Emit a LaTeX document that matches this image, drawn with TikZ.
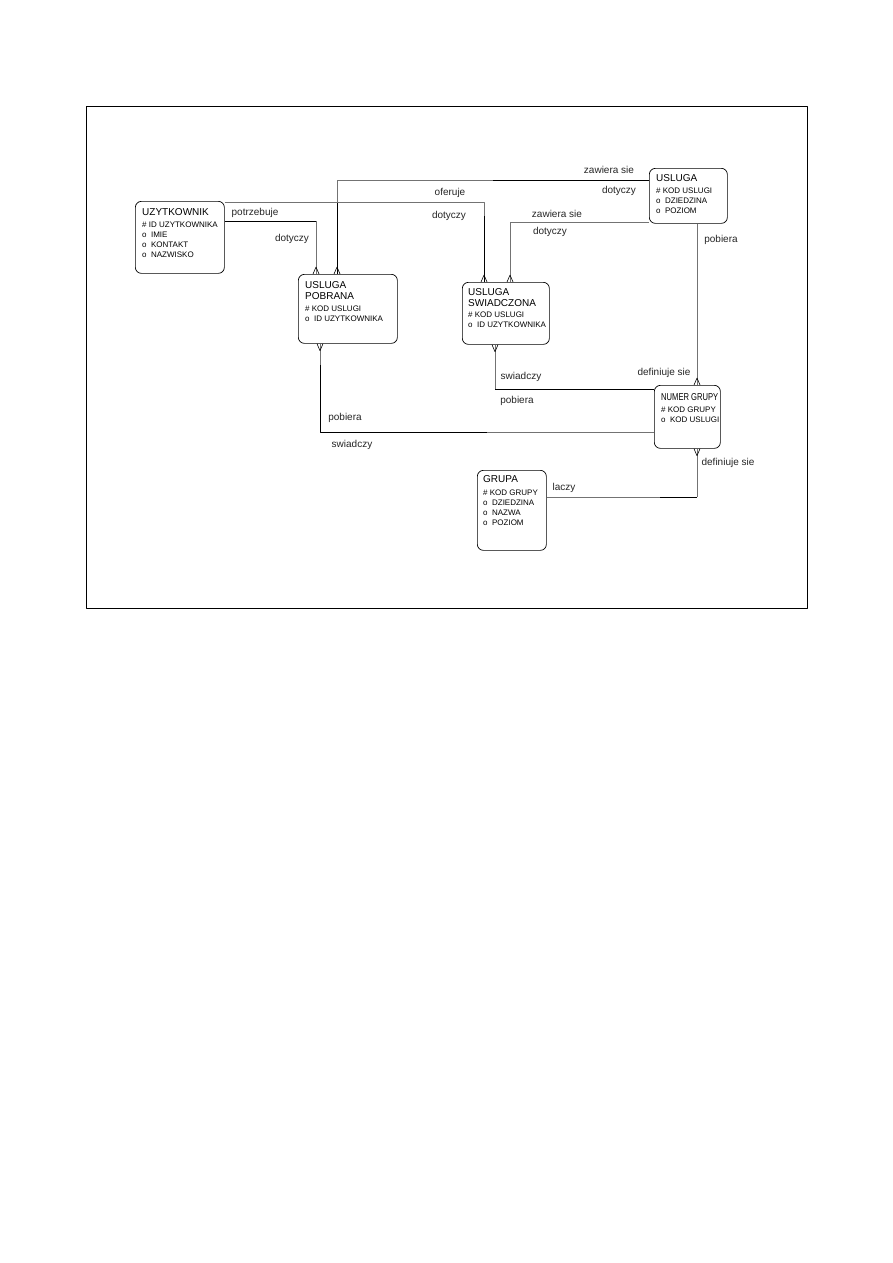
\documentclass[tikz,border=0pt]{standalone}
\usepackage{fontspec}
\usepackage{graphicx}
\setmainfont{Liberation Sans}
\usetikzlibrary{calc}
\newcommand{\entname}{\fontsize{10}{12}\selectfont}
\newcommand{\attrfont}{\fontsize{8}{10}\selectfont}
\begin{document}
\begin{tikzpicture}[x=1pt,y=-1pt,line join=round,
		entity/.style={draw=black,line width=0.7pt,rounded corners=6pt,anchor=north west,inner sep=0pt},
		enttext/.style={anchor=north west,align=left,inner sep=0pt,font=\attrfont},
		lbl/.style={font=\fontsize{10}{12}\selectfont,inner sep=0pt,text=black!85},
		solidpart/.style={draw=black,line width=1pt},
		dashpart/.style={draw=black!55,line width=0.7pt},
		crowin/.pic={\draw[line width=0.6pt] (0,-7) -- (-3,0) (0,-7) -- (3,0);},
		crowout/.pic={\draw[line width=0.6pt] (0,7) -- (-3,0) (0,7) -- (3,0);}]
	\useasboundingbox[fill=white] (0,0) rectangle (893,1263);
	\draw[line width=1pt] (86,106) rectangle (807,608);
	
	% entities
	\node[entity,minimum width=89pt,minimum height=72pt] (uzyt) at (135,201) {};
	\node[enttext] (uzyt-txt) at ([shift={(7,7)}]uzyt.north west) {{\entname UZYTKOWNIK}\\[2pt]\# ID UZYTKOWNIKA\\o\ \ IMIE\\o\ \ KONTAKT\\o\ \ NAZWISKO};
	
	\node[entity,minimum width=99pt,minimum height=69pt] (pobr) at (298,274) {};
	\node[enttext] (pobr-txt) at ([shift={(7,7)}]pobr.north west) {{\entname USLUGA}\\[1pt]{\entname POBRANA}\\[2pt]\# KOD USLUGI\\o\ \ ID UZYTKOWNIKA};
	
	\node[entity,minimum width=87pt,minimum height=62pt] (swiad) at (462,282) {};
	\node[enttext] (swiad-txt) at ([shift={(6,6)}]swiad.north west) {{\entname USLUGA}\\[1pt]{\entname SWIADCZONA}\\[1pt]\# KOD USLUGI\\o\ \ ID UZYTKOWNIKA};
	
	\node[entity,minimum width=78pt,minimum height=55pt] (usl) at (649,168) {};
	\node[enttext] (usl-txt) at ([shift={(7,6)}]usl.north west) {{\entname USLUGA}\\[2pt]\# KOD USLUGI\\o\ \ DZIEDZINA\\o\ \ POZIOM};
	
	\node[entity,minimum width=66pt,minimum height=63pt] (numer) at (654,385) {};
	\node[enttext] (numer-txt) at ([shift={(7,8)}]numer.north west) {{\entname\scalebox{0.76}[1]{NUMER GRUPY}}\\[2pt]\# KOD GRUPY\\o\ \ KOD USLUGI};
	
	\node[entity,minimum width=69pt,minimum height=80pt] (grupa) at (477,470) {};
	\node[enttext] (grupa-txt) at ([shift={(6,5)}]grupa.north west) {{\entname GRUPA}\\[3pt]\# KOD GRUPY\\o\ \ DZIEDZINA\\o\ \ NAZWA\\o\ \ POZIOM};
	
	% bends and splits of the relationships
	\coordinate (b1) at (316,221);
	\coordinate (b2) at (484,202);
	\coordinate (m2) at (484,216);
	\coordinate (b3) at (337,180);
	\coordinate (m3a) at (493,180);
	\coordinate (m3b) at (337,203);
	\coordinate (b4) at (510,222);
	\coordinate (x5) at (697,300);
	\coordinate (b6) at (495,389);
	\coordinate (b7) at (320,432);
	\coordinate (m7a) at (320,365);
	\coordinate (m7b) at (487,432);
	\coordinate (b8) at (697,497);
	\coordinate (m8) at (660,497);
	
	% potrzebuje / dotyczy
	\draw[solidpart] (uzyt.east |- b1) -- (b1);
	\draw[dashpart] (b1) -- (b1 |- pobr.north);
	\pic at (b1 |- pobr.north) {crowin};
	
	% oferuje / dotyczy
	\draw[dashpart] (uzyt.east |- b2) -- (b2) -- (m2);
	\draw[solidpart] (m2) -- (b2 |- swiad.north);
	\pic at (b2 |- swiad.north) {crowin};
	
	% zawiera sie / dotyczy (pobrana)
	\draw[solidpart] (usl.west |- b3) -- (m3a);
	\draw[dashpart] (m3a) -- (b3) -- (m3b);
	\draw[solidpart] (m3b) -- (b3 |- pobr.north);
	\pic at (b3 |- pobr.north) {crowin};
	
	% zawiera sie / dotyczy (swiadczona)
	\draw[dashpart] (usl.west |- b4) -- (b4) -- (b4 |- swiad.north);
	\pic at (b4 |- swiad.north) {crowin};
	
	% pobiera / definiuje sie
	\draw[dashpart] (usl.south -| x5) -- (numer.north -| x5);
	\pic at (numer.north -| x5) {crowin};
	
	% swiadczy / pobiera
	\draw[dashpart] (swiad.south -| b6) -- (b6);
	\draw[solidpart] (b6) -- (numer.west |- b6);
	\pic at (swiad.south -| b6) {crowout};
	
	% pobiera / swiadczy
	\draw[dashpart] (pobr.south -| b7) -- (m7a);
	\draw[solidpart] (m7a) -- (b7) -- (m7b);
	\draw[dashpart] (m7b) -- (numer.west |- b7);
	\pic at (pobr.south -| b7) {crowout};
	
	% definiuje sie / laczy
	\draw[dashpart] (numer.south -| b8) -- (b8);
	\draw[solidpart] (b8) -- (m8);
	\draw[dashpart] (m8) -- (grupa.east |- b8);
	\pic at (numer.south -| b8) {crowout};
	
	% labels
	\node[lbl] (l-potrz) at (255,213) {potrzebuje};
	\node[lbl] (l-dot1) at (292,239) {dotyczy};
	\node[lbl] (l-ofer) at (450,193) {oferuje};
	\node[lbl] (l-dot2) at (449,216) {dotyczy};
	\node[lbl] (l-zaw1) at (609,170) {zawiera sie};
	\node[lbl] (l-dot3) at (619,191) {dotyczy};
	\node[lbl] (l-zaw2) at (557,214) {zawiera sie};
	\node[lbl] (l-dot4) at (550,232) {dotyczy};
	\node[lbl] (l-pob1) at (721,240) {pobiera};
	\node[lbl] (l-def1) at (664,373) {definiuje sie};
	\node[lbl] (l-swi1) at (521,377) {swiadczy};
	\node[lbl] (l-pob2) at (517,401) {pobiera};
	\node[lbl] (l-pob3) at (345,418) {pobiera};
	\node[lbl] (l-swi2) at (352,445) {swiadczy};
	\node[lbl] (l-def2) at (728,463) {definiuje sie};
	\node[lbl] (l-lacz) at (564,488) {laczy};
\end{tikzpicture}
\end{document}
